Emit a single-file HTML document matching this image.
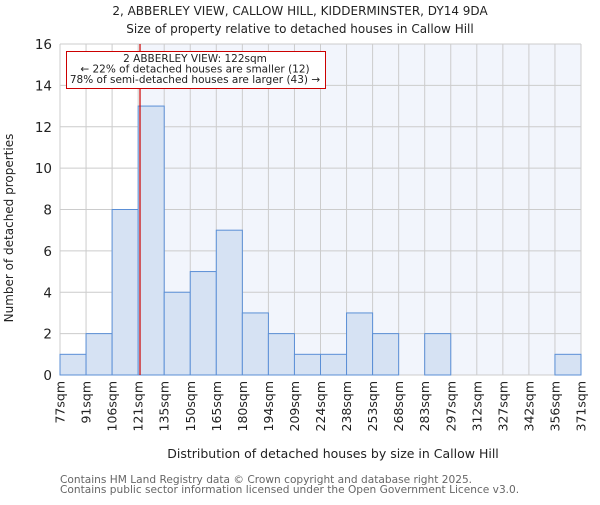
<!DOCTYPE html>
<html><head><meta charset="utf-8"><style>
body{margin:0;background:#fff;}
svg{font-family:"DejaVu Sans","Liberation Sans",sans-serif;}
</style></head><body>
<svg id="chart" width="600" height="500" viewBox="0 0 600 500">
<text x="300" y="15" text-anchor="middle" font-size="12" fill="#222">2, ABBERLEY VIEW, CALLOW HILL, KIDDERMINSTER, DY14 9DA</text>
<text x="300" y="33" text-anchor="middle" font-size="12" fill="#222">Size of property relative to detached houses in Callow Hill</text>
<g id="plot"></g>
<text x="333" y="458" text-anchor="middle" font-size="12.5" fill="#222">Distribution of detached houses by size in Callow Hill</text>
<text transform="translate(13,228) rotate(-90)" text-anchor="middle" font-size="12" fill="#222">Number of detached properties</text>
<text x="60" y="483" font-size="10.6" fill="#666">Contains HM Land Registry data © Crown copyright and database right 2025.</text>
<text x="60" y="493" font-size="10.6" fill="#666">Contains public sector information licensed under the Open Government Licence v3.0.</text>
</svg>
<script>
const categories=["77sqm","91sqm","106sqm","121sqm","135sqm","150sqm","165sqm","180sqm","194sqm","209sqm","224sqm","238sqm","253sqm","268sqm","283sqm","297sqm","312sqm","327sqm","342sqm","356sqm","371sqm"];
const counts=[1,2,8,13,4,5,7,3,2,1,1,3,2,0,2,0,0,0,0,1];
const yTicks=[0,2,4,6,8,10,12,14,16];
const markerBin=3+1/14;
const NS="http://www.w3.org/2000/svg";
const L=60,R=581,T=44,B=375,yMax=16;
const nb=counts.length;
const xs=i=>L+(R-L)*i/nb;
const ys=v=>B-(B-T)*v/yMax;
const g=document.getElementById('plot');
function mk(t,a){const e=document.createElementNS(NS,t);for(const k in a)e.setAttribute(k,a[k]);g.appendChild(e);return e;}
const mx=xs(markerBin);
let e=mk('rect',{x:mx,y:T,width:R-mx,height:B-T,fill:'#f2f5fc'});


for(let i=0;i<=nb;i++){e=mk('line',{x1:xs(i),x2:xs(i),y1:T,y2:B,stroke:'#ccc','stroke-width':1});

}
yTicks.forEach(v=>{e=mk('line',{x1:L,x2:R,y1:ys(v),y2:ys(v),stroke:'#ccc','stroke-width':1});


e=mk('text',{x:L-8,y:ys(v)+5,'text-anchor':'end','font-size':13.5,fill:'#222'});e.textContent=v;

});
counts.forEach((c,i)=>{if(c<=0)return;e=mk('rect',{x:xs(i),y:ys(c),width:xs(i+1)-xs(i),height:B-ys(c),fill:'#d6e2f3',stroke:'#5b8fd6','stroke-width':1});

});
categories.forEach((c,i)=>{e=mk('text',{transform:`translate(${xs(i)+4.5},381) rotate(-90)`,'text-anchor':'end','font-size':12.5,fill:'#222'});e.textContent=c;

});
e=mk('line',{x1:mx,x2:mx,y1:T,y2:B,stroke:'#c00','stroke-width':1.2});


e=mk('rect',{x:66.5,y:51.5,width:259,height:37,fill:'#fff',stroke:'#c00','stroke-width':1});


["2 ABBERLEY VIEW: 122sqm","← 22% of detached houses are smaller (12)","78% of semi-detached houses are larger (43) →"].forEach((t,k)=>{e=mk('text',{x:195,y:62+k*10.5,'text-anchor':'middle','font-size':10.5,fill:'#222'});e.textContent=t;

});
</script>
</body></html>
